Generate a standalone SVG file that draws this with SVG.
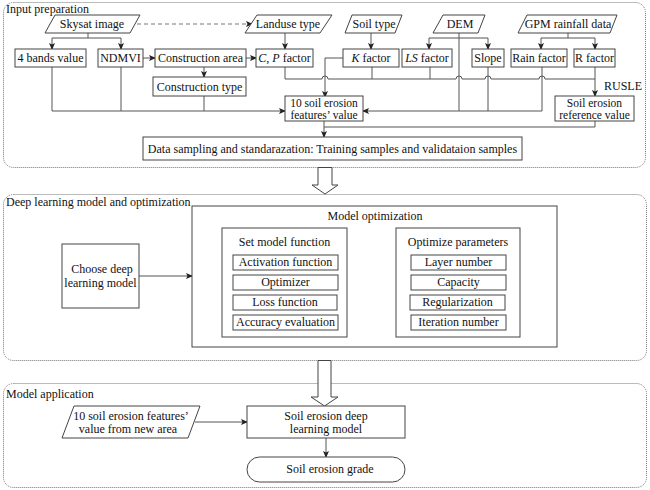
<svg xmlns="http://www.w3.org/2000/svg" width="650" height="490" viewBox="0 0 650 490" font-family="'Liberation Serif', 'DejaVu Serif', serif">
<defs>
<marker id="ah" markerWidth="7" markerHeight="6" refX="6" refY="3" orient="auto" markerUnits="userSpaceOnUse">
<path d="M0,0 L7,3 L0,6 L1.5,3 Z" fill="#222"/>
</marker>
<style>
text{font-family:'Liberation Serif','DejaVu Serif',serif;font-size:12px;fill:#111}
.c{text-anchor:middle}
.s{font-size:11.5px}
.box{fill:#fff;stroke:#444;stroke-width:1}
.sec{fill:none;stroke:#777;stroke-width:1;stroke-dasharray:1 1}
.ln{fill:none;stroke:#555;stroke-width:1}
.ar{fill:none;stroke:#555;stroke-width:1;marker-end:url(#ah)}
.dash{fill:none;stroke:#777;stroke-width:1;stroke-dasharray:4 3;marker-end:url(#ah)}
.hollow{fill:#fff;stroke:#444;stroke-width:1}
</style>
</defs>
<rect width="650" height="490" fill="#fff"/>

<g id="sections">
<rect class="sec" x="3.5" y="2.5" width="642" height="165" rx="10"/>
<text x="6" y="13">Input preparation</text>
<rect class="sec" x="3.5" y="194.5" width="643" height="166" rx="10"/>
<text x="6" y="206">Deep learning model and optimization</text>
<rect class="sec" x="3.5" y="383.5" width="643" height="104" rx="10"/>
<text x="6" y="398">Model application</text>
</g>

<g id="connectors">
<path class="ln" d="M88,33 V38 M52,38 H121"/>
<path class="ar" d="M52,38 V49"/>
<path class="ar" d="M121,38 V49"/>
<path class="dash" d="M137,24 H252"/>
<path class="ar" d="M285,33 V49"/>
<path class="ar" d="M143,58 H155"/>
<path class="ar" d="M246,58 H256"/>
<path class="ar" d="M204,67 V77"/>
<path class="ar" d="M371,33 V49"/>
<path class="ln" d="M459,33 V111 M429,38 H488"/>
<path class="ar" d="M429,38 V49"/>
<path class="ar" d="M488,38 V49"/>
<path class="ln" d="M568,33 V38 M541,38 H595"/>
<path class="ar" d="M541,38 V49"/>
<path class="ar" d="M595,38 V49"/>
<path class="ar" d="M52,67 V111 H285"/>
<path class="ln" d="M121,67 V111 M204,96 V111"/>
<path class="ar" d="M343,58 H325 V97"/>
<path class="ln" d="M372,67 V79 M430,67 V79 M595,67 V79"/>
<path class="ar" d="M285,67 V79 H322 a3,3 0 0 1 6,0 H456 a3,3 0 0 1 6,0 H485 a3,3 0 0 1 6,0 H539 a3,3 0 0 1 6,0 H595 V96"/>
<path class="ln" d="M488,67 V111 M542,67 V111"/>
<path class="ar" d="M542,111 H363"/>
<path class="ar" d="M324,121 V137"/>
<path class="ln" d="M595,121 V127 H324"/>
<path class="ar" d="M139,276 H192"/>
<path class="ar" d="M347,283 H396"/>
<path class="ar" d="M195,422 H247"/>
<path class="ar" d="M326,438 V457"/>
<path class="hollow" d="M318,167.5 H332 V185 H338 L325,194 L312,185 H318 Z"/>
<path class="hollow" d="M318,360.5 H331 V397 H338 L324.5,406 L311,397 H318 Z"/>
</g>

<g id="skysat"><polygon class="box" points="55,15 140,15 130,33 45,33"/><text class="c" x="92" y="28">Skysat image</text></g>
<g id="landuse"><polygon class="box" points="257,15 332,15 320,33 245,33"/><text class="c" x="288" y="28">Landuse type</text></g>
<g id="soiltype"><polygon class="box" points="352,15 402,15 395,33 345,33"/><text class="c" x="374" y="28">Soil type</text></g>
<g id="dem"><polygon class="box" points="443,15 485,15 478,33 433,33"/><text class="c" x="460" y="28">DEM</text></g>
<g id="gpm"><polygon class="box" points="527,15 617,15 610,33 518,33"/><text class="c" x="568" y="28">GPM rainfall data</text></g>

<g id="bands"><rect class="box" x="15" y="49" width="71" height="18"/><text class="c" x="50.5" y="62">4 bands value</text></g>
<g id="ndmvi"><rect class="box" x="98" y="49" width="45" height="18"/><text class="c" x="120.5" y="62">NDMVI</text></g>
<g id="constarea"><rect class="box" x="155" y="49" width="91" height="18"/><text class="c" x="200.5" y="62">Construction area</text></g>
<g id="cp"><rect class="box" x="256" y="49" width="57" height="18"/><text class="c" x="284.5" y="62"><tspan font-style="italic">C</tspan>, <tspan font-style="italic">P</tspan> factor</text></g>
<g id="consttype"><rect class="box" x="153" y="77" width="93" height="19"/><text class="c" x="199.5" y="91">Construction type</text></g>
<g id="k"><rect class="box" x="343" y="49" width="56" height="18"/><text class="c" x="371" y="62"><tspan font-style="italic">K</tspan> factor</text></g>
<g id="ls"><rect class="box" x="402" y="49" width="50" height="18"/><text class="c" x="427" y="62"><tspan font-style="italic">LS</tspan> factor</text></g>
<g id="slope"><rect class="box" x="472" y="49" width="32" height="18"/><text class="c" x="488" y="62">Slope</text></g>
<g id="rain"><rect class="box" x="511" y="49" width="56" height="18"/><text class="c" x="539" y="62">Rain factor</text></g>
<g id="rfactor"><rect class="box" x="574" y="49" width="41" height="18"/><text class="c" x="594.5" y="62">R factor</text></g>
<g id="features"><rect class="box" x="285" y="96" width="78" height="25"/><text class="c s" x="324" y="107">10 soil erosion</text><text class="c s" x="324" y="119">features’ value</text></g>
<g id="reference"><rect class="box" x="555" y="96" width="79" height="25"/><text class="c s" x="594.5" y="107">Soil erosion</text><text class="c s" x="594.5" y="119">reference value</text></g>
<g id="rusle"><text x="604" y="90">RUSLE</text></g>
<g id="sampling"><rect class="box" x="143" y="137" width="379" height="23"/><text class="c" x="332.5" y="153">Data sampling and standarazation: Training samples and validataion samples</text></g>

<g id="choose"><rect class="box" x="62" y="244" width="77" height="64"/><text class="c" x="102" y="273">Choose deep</text><text class="c" x="100.5" y="287">learning model</text></g>
<g id="modelopt"><rect class="box" x="192" y="206" width="365" height="141"/><text class="c" x="375" y="220">Model optimization</text></g>
<g id="setfunc"><rect class="box" x="222" y="228" width="125" height="109"/><text class="c" x="284.5" y="246">Set model function</text>
<rect class="box" x="233" y="255" width="105" height="15"/><text class="c" x="285.5" y="266">Activation function</text>
<rect class="box" x="233" y="275" width="105" height="15"/><text class="c" x="285.5" y="286">Optimizer</text>
<rect class="box" x="233" y="295" width="104" height="15"/><text class="c" x="285" y="306">Loss function</text>
<rect class="box" x="233" y="315" width="105" height="15"/><text class="c" x="285.5" y="326">Accuracy evaluation</text></g>
<g id="optparams"><rect class="box" x="396" y="228" width="124" height="109"/><text class="c" x="458" y="246">Optimize parameters</text>
<rect class="box" x="411" y="255" width="95" height="15"/><text class="c" x="458.5" y="266">Layer number</text>
<rect class="box" x="411" y="275" width="95" height="15"/><text class="c" x="458.5" y="286">Capacity</text>
<rect class="box" x="410" y="295" width="95" height="15"/><text class="c" x="457.5" y="306">Regularization</text>
<rect class="box" x="411" y="315" width="95" height="15"/><text class="c" x="458.5" y="326">Iteration number</text></g>

<g id="newarea"><polygon class="box" points="74,406 200,406 188,438 62,438"/><text class="c" x="131" y="420">10 soil erosion features’</text><text class="c" x="128" y="433">value from new area</text></g>
<g id="dlmodel"><rect class="box" x="247" y="406" width="158" height="32"/><text class="c" x="326" y="420">Soil erosion deep</text><text class="c" x="326" y="433">learning model</text></g>
<g id="grade"><rect class="box" x="247" y="457" width="158" height="25" rx="12.5"/><text class="c" x="330" y="473">Soil erosion grade</text></g>
</svg>
